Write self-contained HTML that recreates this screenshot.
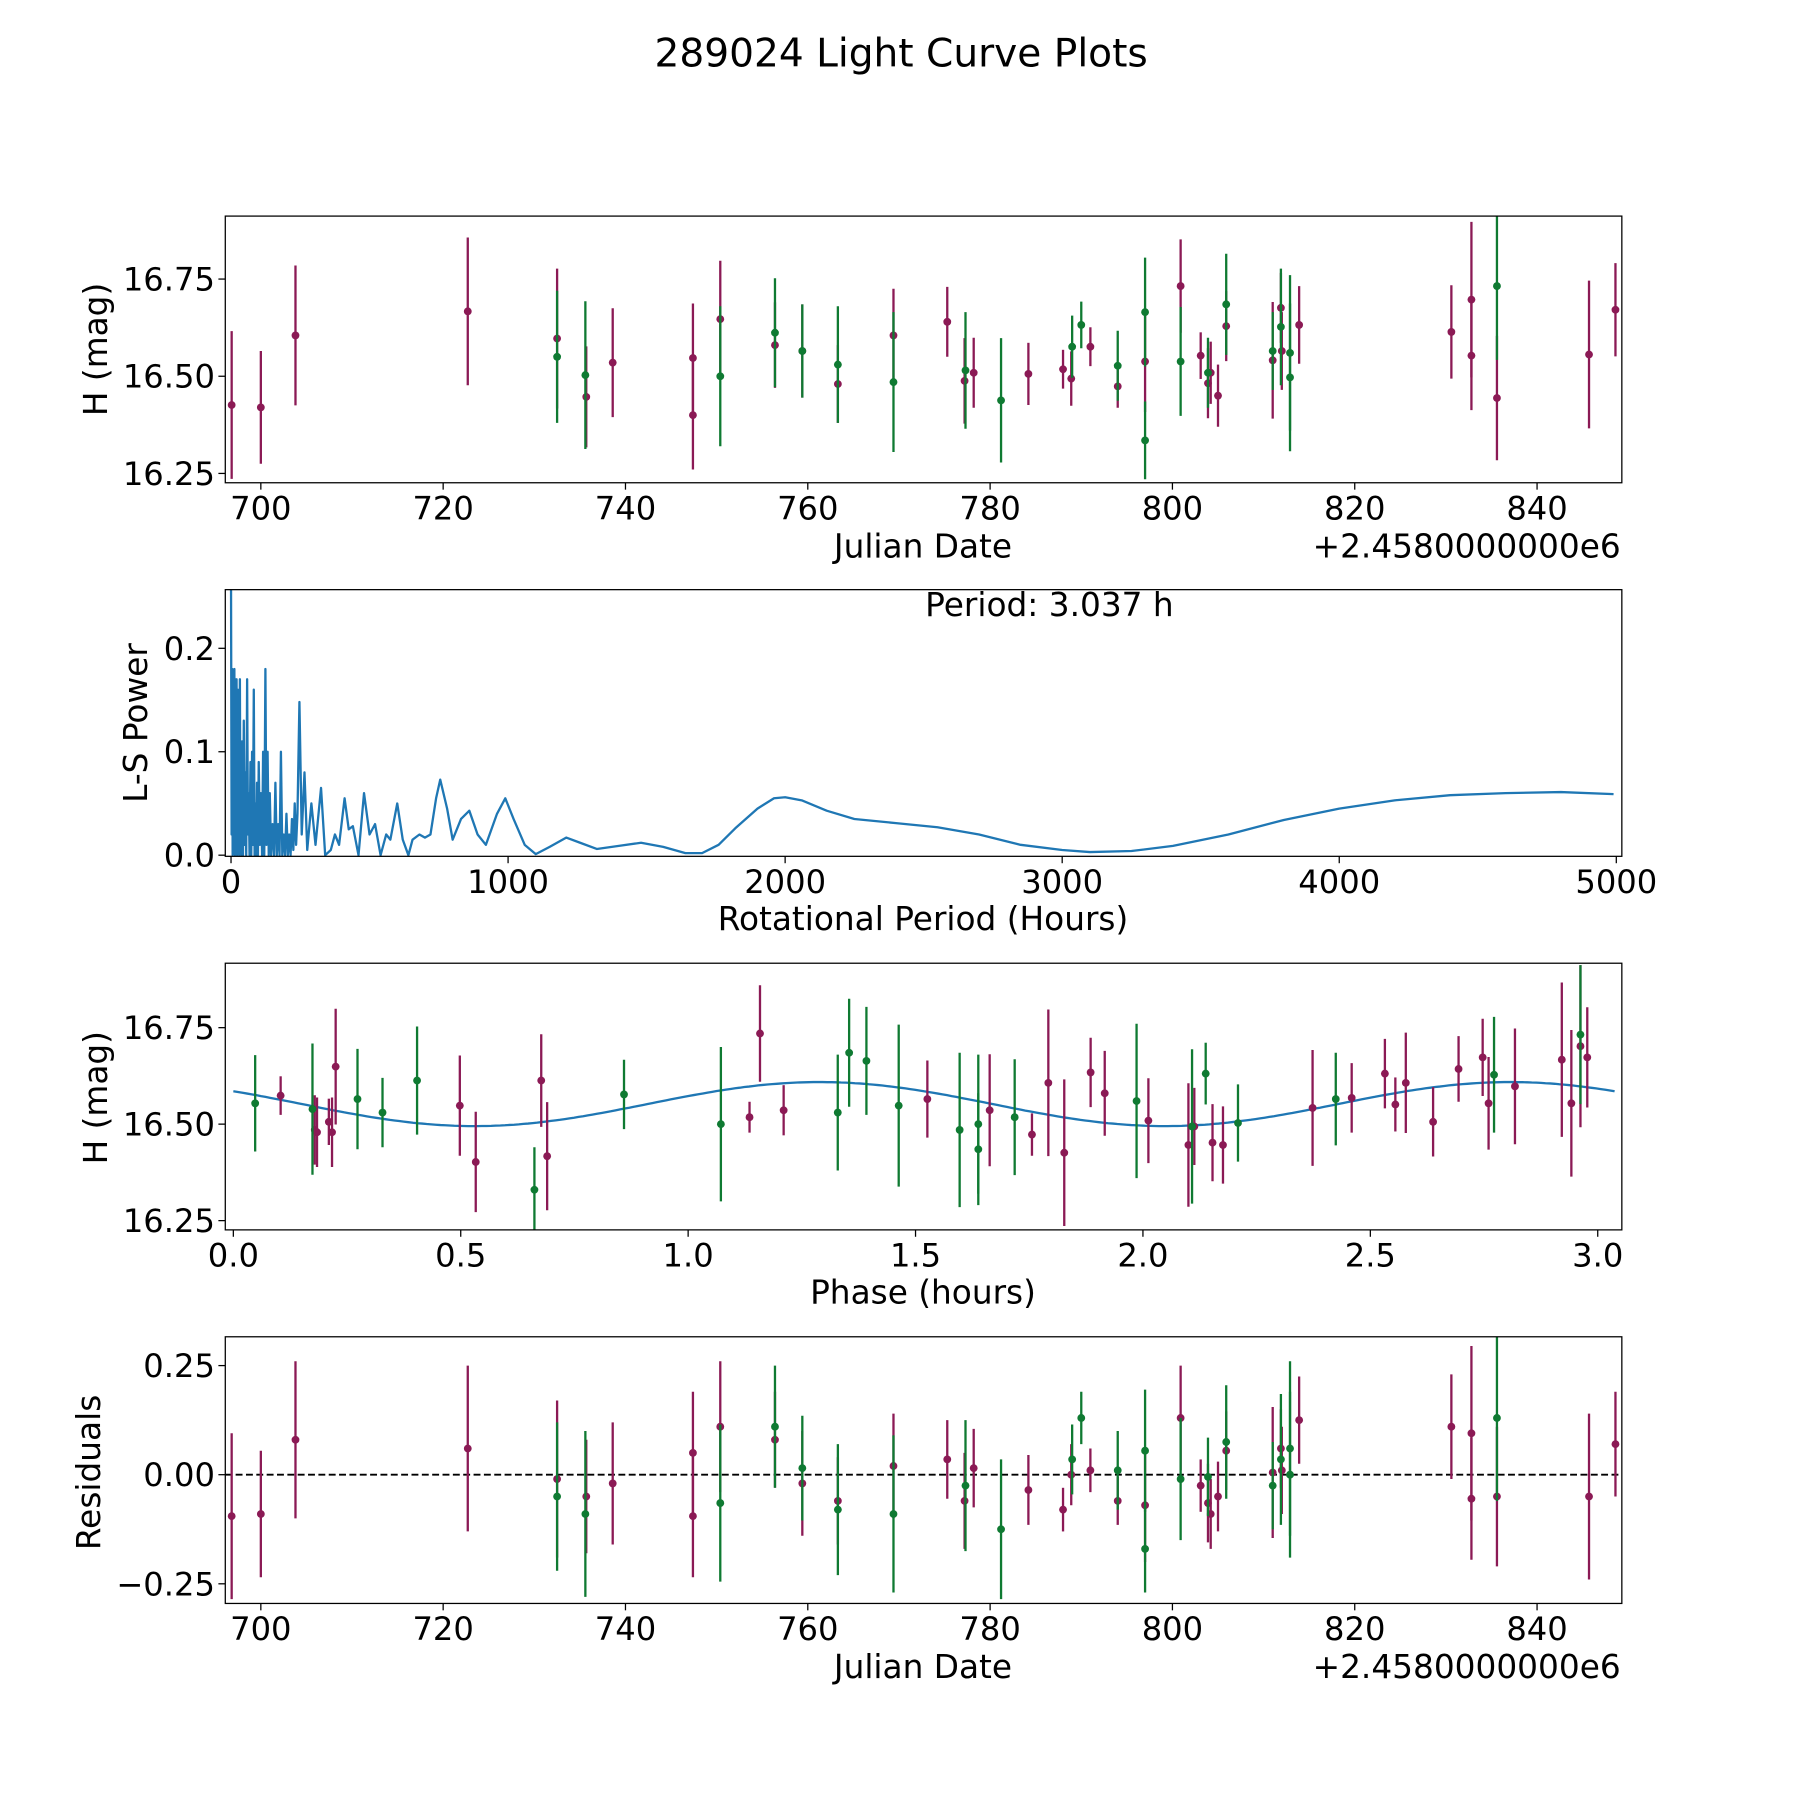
<!DOCTYPE html>
<html><head><meta charset="utf-8"><style>
html,body{margin:0;padding:0;background:#fff}
svg{display:block}
text{font-family:"DejaVu Sans","Liberation Sans",sans-serif;fill:#000}
</style></head><body>
<svg id="fig" width="1800" height="1800" viewBox="0 0 1566 1566" xmlns="http://www.w3.org/2000/svg">
<rect width="1566" height="1566" fill="#fff"/>
<text x="784" y="58" font-size="34" text-anchor="middle">289024 Light Curve Plots</text>
</svg>
<script>
// ---- data: [date offset, mag, err, residual] ----
const purpleDates=[696.8,700,703.8,722.7,732.5,735.7,738.6,747.4,747.4,750.4,756.4,759.4,763.3,769.4,775.3,777.2,778.2,784.2,788,788.9,791,794,797,800.9,803.1,803.9,804.2,805,805.9,811,811.9,812,813.9,830.6,832.8,832.8,835.6,845.7,848.6];
const purpleMags=[16.426,16.42,16.605,16.667,16.597,16.447,16.535,16.547,16.4,16.647,16.58,16.565,16.48,16.605,16.64,16.488,16.509,16.506,16.518,16.494,16.576,16.474,16.538,16.732,16.553,16.482,16.509,16.45,16.629,16.541,16.676,16.565,16.632,16.614,16.697,16.553,16.444,16.556,16.671];
const purpleErrs=[0.19,0.145,0.18,0.19,0.18,0.13,0.14,0.14,0.14,0.15,0.11,0.12,0.1,0.12,0.09,0.11,0.09,0.08,0.05,0.07,0.05,0.055,0.13,0.12,0.06,0.09,0.08,0.08,0.09,0.15,0.09,0.1,0.1,0.12,0.2,0.14,0.16,0.19,0.12];
const purpleRes=[-0.095,-0.09,0.08,0.06,-0.01,-0.05,-0.02,0.05,-0.095,0.11,0.08,-0.02,-0.06,0.02,0.035,-0.06,0.015,-0.035,-0.08,0.0,0.01,-0.06,-0.07,0.13,-0.025,-0.065,-0.09,-0.05,0.055,0.005,0.06,0.01,0.125,0.11,0.095,-0.055,-0.05,-0.05,0.07];
const greenDates=[732.5,735.6,750.4,756.4,759.4,763.3,769.4,777.3,781.2,789,790,794,797,797,800.9,803.9,805.9,811,811.9,812.9,812.9,835.6];
const greenMags=[16.55,16.503,16.5,16.612,16.565,16.53,16.485,16.515,16.438,16.576,16.632,16.527,16.665,16.335,16.538,16.509,16.685,16.565,16.627,16.497,16.56,16.732];
const greenErrs=[0.17,0.19,0.18,0.14,0.12,0.15,0.18,0.15,0.16,0.08,0.06,0.09,0.14,0.1,0.14,0.09,0.13,0.1,0.15,0.19,0.2,0.19];
const greenRes=[-0.05,-0.09,-0.065,0.11,0.015,-0.08,-0.09,-0.025,-0.125,0.035,0.13,0.01,0.055,-0.17,-0.01,-0.005,0.075,-0.025,0.035,0.0,0.06,0.13];
// ---- phase-folded data ----
const purplePhase=[0.104,0.179,0.184,0.21,0.217,0.225,0.498,0.533,0.677,0.69,1.135,1.158,1.21,1.526,1.663,1.756,1.792,1.827,1.885,1.916,2.012,2.1,2.113,2.153,2.176,2.373,2.459,2.532,2.555,2.578,2.638,2.694,2.747,2.76,2.818,2.921,2.942,2.962,2.977];
const purplePhaseMag=[16.574,16.485,16.479,16.506,16.479,16.649,16.548,16.402,16.613,16.417,16.518,16.735,16.536,16.565,16.536,16.473,16.607,16.426,16.634,16.58,16.509,16.446,16.494,16.452,16.446,16.542,16.568,16.631,16.551,16.607,16.506,16.643,16.673,16.554,16.598,16.667,16.554,16.702,16.673];
const purplePhaseErr=[0.05,0.09,0.09,0.06,0.09,0.15,0.13,0.13,0.12,0.14,0.04,0.125,0.065,0.1,0.145,0.055,0.19,0.19,0.09,0.11,0.11,0.16,0.1,0.1,0.1,0.15,0.09,0.09,0.07,0.13,0.09,0.085,0.1,0.12,0.15,0.2,0.19,0.21,0.13];
const greenPhase=[0.048,0.174,0.273,0.328,0.404,0.662,0.859,1.072,1.329,1.354,1.392,1.463,1.597,1.638,1.638,1.718,1.986,2.108,2.138,2.209,2.424,2.772,2.962];
const greenPhaseMag=[16.554,16.539,16.565,16.53,16.613,16.33,16.577,16.5,16.53,16.685,16.664,16.548,16.485,16.435,16.5,16.518,16.56,16.494,16.631,16.503,16.565,16.628,16.732];
const greenPhaseErr=[0.125,0.17,0.13,0.09,0.14,0.11,0.09,0.2,0.15,0.14,0.14,0.21,0.2,0.145,0.18,0.15,0.2,0.2,0.08,0.1,0.12,0.15,0.18];
// ---- fitted model (two-harmonic sinusoid) ----
const modelMean=[16.552];
const modelAmp=[0.057];
const modelPhase0=[0.91];
const bestPeriod=[3.037];
// ---- periodogram ----
const lsPeriods=[0,2,4,6,8,10,12,14,16,18,20,22,24,26,28,30,32,34,36,38,40,43,46,49,52,55,58,61,64,67,70,73,76,79,82,85,88,91,94,97,100,104,108,112,116,120,124,128,132,136,140,145,150,155,160,165,170,175,180,185,190,195,200,205,210,215,220,225,230,235,240,247,255,265,275,290,305,325,340,360,375,390,410,425,440,460,480,500,520,540,560,575,600,620,640,655,680,700,720,740,755,780,800,830,860,890,920,960,990,1020,1060,1100,1150,1210,1260,1320,1400,1480,1560,1640,1700,1760,1820,1900,1960,2000,2060,2150,2250,2400,2550,2700,2850,3000,3100,3250,3400,3600,3800,4000,4200,4400,4600,4800,4990];
const lsPower=[0.26,0.02,0.18,0.0,0.17,0.03,0.18,0.0,0.17,0.05,0.17,0.0,0.16,0.02,0.12,0.0,0.17,0.01,0.09,0.0,0.11,0.0,0.13,0.01,0.08,0.0,0.17,0.02,0.06,0.0,0.09,0.0,0.1,0.01,0.16,0.0,0.05,0.0,0.07,0.0,0.09,0.01,0.06,0.0,0.1,0.0,0.18,0.01,0.1,0.0,0.06,0.0,0.03,0.0,0.07,0.0,0.03,0.0,0.1,0.0,0.02,0.0,0.04,0.0,0.02,0.0,0.035,0.005,0.05,0.01,0.04,0.148,0.02,0.08,0.005,0.05,0.01,0.065,0.0,0.005,0.02,0.01,0.055,0.025,0.028,0.0,0.06,0.02,0.03,0.0,0.02,0.015,0.05,0.015,0.0,0.015,0.02,0.017,0.02,0.055,0.073,0.045,0.015,0.035,0.043,0.02,0.01,0.04,0.055,0.035,0.01,0.001,0.008,0.017,0.012,0.006,0.009,0.012,0.008,0.002,0.002,0.01,0.026,0.045,0.055,0.056,0.053,0.043,0.035,0.031,0.027,0.02,0.01,0.005,0.003,0.004,0.009,0.02,0.034,0.045,0.053,0.058,0.06,0.061,0.059];
// ---- ticks ----
const dateTicks=[700,720,740,760,780,800,820,840];
const magTicks=[16.25,16.50,16.75];
const lsXTicks=[0,1000,2000,3000,4000,5000];
const lsYTicks=[0.0,0.1,0.2];
const phaseTicks=[0.0,0.5,1.0,1.5,2.0,2.5,3.0];
const resTicks=[-0.25,0.00,0.25];

const NS='http://www.w3.org/2000/svg';
const svg=document.getElementById('fig');
const PURPLE='#8b1a55', GREEN='#0f7a32', BLUE='#1f77b4';
const L=196,R=1411;
function mk(tag,attrs,parent){const e=document.createElementNS(NS,tag);for(const k in attrs)e.setAttribute(k,attrs[k]);(parent||svg).appendChild(e);return e;}
function scale(d0,d1,r0,r1){return v=>r0+(v-d0)/(d1-d0)*(r1-r0);}

function panel(name,top,bot,xd,yd){
  const g=mk('g',{});
  
  
  const cid='clip-'+name;
  const cp=mk('clipPath',{id:cid},g);
  mk('rect',{x:L,y:top,width:R-L,height:bot-top},cp);
  const plot=mk('g',{'clip-path':'url(#'+cid+')'},g);
  
  
  return {g,plot,top,bot,x:scale(xd[0],xd[1],L,R),y:scale(yd[0],yd[1],bot,top)};
}
function frame(p){
  const f=mk('rect',{x:L,y:p.top,width:R-L,height:p.bot-p.top,fill:'none',stroke:'#000','stroke-width':1.1},p.g);
  
  
}
function xticks(p,ticks,fmt){
  ticks.forEach(t=>{const x=p.x(t);
    const l=mk('line',{x1:x,x2:x,y1:p.bot,y2:p.bot+6,stroke:'#000','stroke-width':1.1},p.g);
    
    
    const tx=mk('text',{x:x,y:p.bot+32,'font-size':28,'text-anchor':'middle'},p.g);
    
    
    tx.textContent=fmt(t);});
}
function yticks(p,ticks,fmt){
  ticks.forEach(t=>{const y=p.y(t);
    const l=mk('line',{x1:L-6,x2:L,y1:y,y2:y,stroke:'#000','stroke-width':1.1},p.g);
    
    
    const tx=mk('text',{x:L-9,y:y+10,'font-size':28,'text-anchor':'end'},p.g);
    
    
    tx.textContent=fmt(t);});
}
function label(p,txt,x,y,rot,nm){
  const t=mk('text',{x:x,y:y,'font-size':28.5,'text-anchor':'middle'},p.g);
  if(rot)t.setAttribute('transform','rotate(-90 '+x+' '+y+')');
  
  
  t.textContent=txt;
}
function errpts(p,xs,ys,es,col,nm){
  xs.forEach((xv,i)=>{const x=p.x(xv),y=p.y(ys[i]);
    const ln=mk('line',{x1:x,x2:x,y1:p.y(ys[i]-es[i]),y2:p.y(ys[i]+es[i]),stroke:col,'stroke-width':2},p.plot);
    
    
    const c=mk('circle',{cx:x,cy:y,r:3.4,fill:col},p.plot);
    
    });
}
const f2=v=>v.toFixed(2), f1=v=>v.toFixed(1), f0=v=>String(v);
const resFmt=v=>(v<0?'\u2212':'')+Math.abs(v).toFixed(2);

// Panel 1: light curve
const p1=panel('light-curve-panel',188,420,[696.1,849.3],[16.226,16.912]);
errpts(p1,purpleDates,purpleMags,purpleErrs,PURPLE,'purple-filter');
errpts(p1,greenDates,greenMags,greenErrs,GREEN,'green-filter');
frame(p1);xticks(p1,dateTicks,f0);yticks(p1,magTicks,f2);
label(p1,'Julian Date',803,485,false,'x-axis-title');
label(p1,'H (mag)',93,304,true,'y-axis-title');
(function(){const t=mk('text',{x:1410,y:485,'font-size':28.5,'text-anchor':'end'},p1.g);t.textContent='+2.4580000000e6';})();

// Panel 2: periodogram
const p2=panel('periodogram-panel',513,745,[-20.7,5020],[-0.0011,0.2567]);
(function(){let d='';lsPeriods.forEach((v,i)=>{d+=(i?'L':'M')+p2.x(v).toFixed(1)+' '+p2.y(lsPower[i]).toFixed(1);});
const pl=mk('path',{d:d,fill:'none',stroke:BLUE,'stroke-width':2,'stroke-linejoin':'round'},p2.plot);

})();
frame(p2);xticks(p2,lsXTicks,f0);yticks(p2,lsYTicks,f1);
label(p2,'Rotational Period (Hours)',803,809,false,'x-axis-title');
label(p2,'L-S Power',128,629,true,'y-axis-title');
(function(){const t=mk('text',{x:913,y:536,'font-size':28.5,'text-anchor':'middle'},p2.g);t.textContent='Period: '+bestPeriod[0].toFixed(3)+' h';})();

// Panel 3: phase folded
const p3=panel('phase-panel',838,1070,[-0.0177,3.053],[16.226,16.917]);
(function(){let d='';const n=300;for(let i=0;i<=n;i++){const ph=bestPeriod[0]*i/n;const m=modelMean[0]+modelAmp[0]*Math.sin(4*Math.PI*(ph-modelPhase0[0])/bestPeriod[0]);d+=(i?'L':'M')+p3.x(ph).toFixed(1)+' '+p3.y(m).toFixed(1);}
const pl=mk('path',{d:d,fill:'none',stroke:BLUE,'stroke-width':2},p3.plot);

})();
errpts(p3,purplePhase,purplePhaseMag,purplePhaseErr,PURPLE,'purple-phase');
errpts(p3,greenPhase,greenPhaseMag,greenPhaseErr,GREEN,'green-phase');
frame(p3);xticks(p3,phaseTicks,f1);yticks(p3,magTicks,f2);
label(p3,'Phase (hours)',803,1134,false,'x-axis-title');
label(p3,'H (mag)',93,955,true,'y-axis-title');

// Panel 4: residuals
const p4=panel('residuals-panel',1163,1395,[696.1,849.3],[-0.295,0.316]);
(function(){const y=p4.y(0);const l=mk('line',{x1:L,x2:R,y1:y,y2:y,stroke:'#000','stroke-width':1.6,'stroke-dasharray':'6 3'},p4.plot);})();
errpts(p4,purpleDates,purpleRes,purpleErrs,PURPLE,'purple-residual');
errpts(p4,greenDates,greenRes,greenErrs,GREEN,'green-residual');
frame(p4);xticks(p4,dateTicks,f0);yticks(p4,resTicks,resFmt);
label(p4,'Julian Date',803,1460,false,'x-axis-title');
label(p4,'Residuals',87,1281,true,'y-axis-title');
(function(){const t=mk('text',{x:1410,y:1460,'font-size':28.5,'text-anchor':'end'},p4.g);t.textContent='+2.4580000000e6';})();
</script>
</body></html>
